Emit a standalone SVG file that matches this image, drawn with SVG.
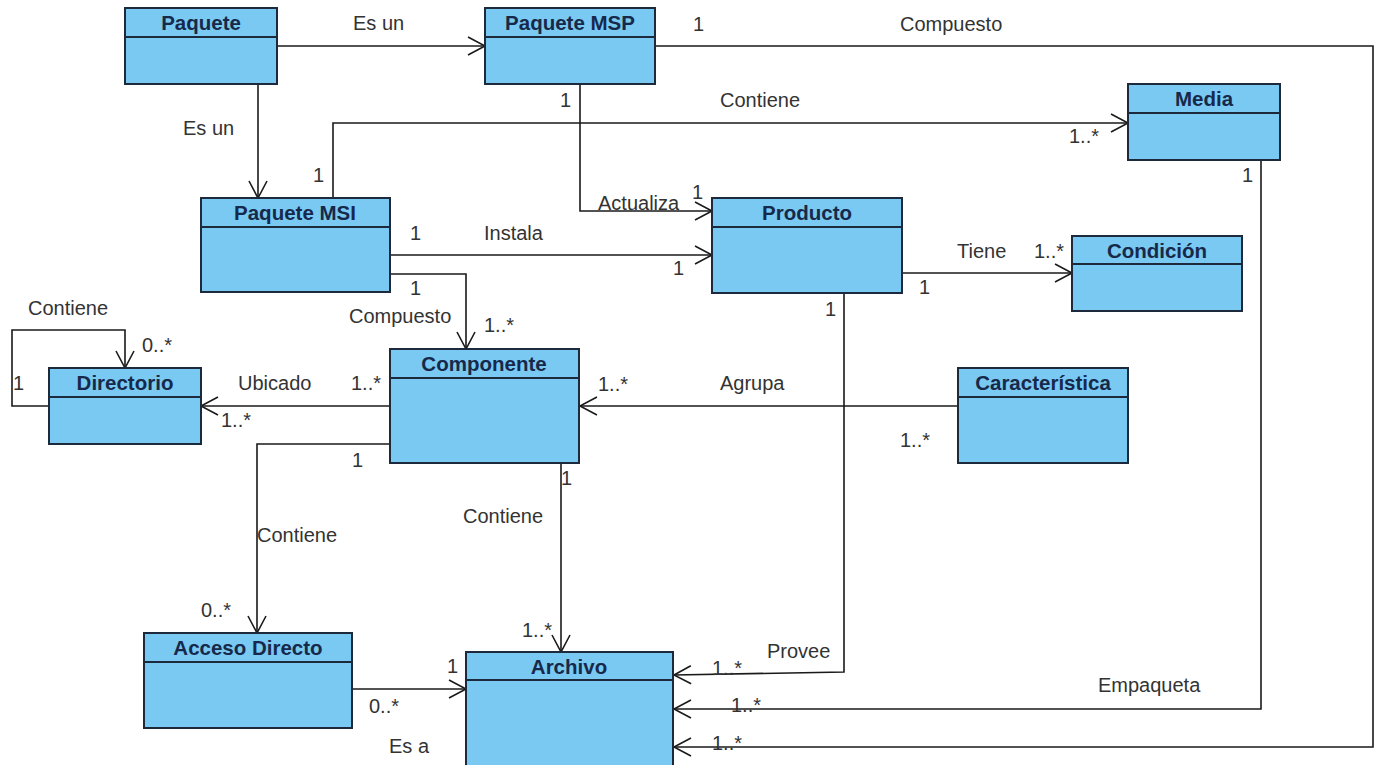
<svg xmlns="http://www.w3.org/2000/svg" width="1378" height="765" viewBox="0 0 1378 765">
  <style>
    .box { fill: #79c9f2; stroke: #1c2a3c; stroke-width: 2; }
    .sep { stroke: #1c2a3c; stroke-width: 2; fill: none; }
    .title { font-family: "Liberation Sans", Arial, sans-serif; font-size: 20.5px; font-weight: bold; fill: #17294a; text-anchor: middle; }
    .edge { fill: none; stroke: #1a1a1a; stroke-width: 1.6; }
    .lbl { font-family: "Liberation Sans", Arial, sans-serif; font-size: 20px; fill: #333333; }
  </style>
  <defs>
    <marker id="open" markerUnits="userSpaceOnUse" markerWidth="22" markerHeight="22" refX="18" refY="10" orient="auto">
      <path d="M1,1 L18,10 L1,19" fill="none" stroke="#1a1a1a" stroke-width="1.6"/>
    </marker>
  </defs>
  <rect width="1378" height="765" fill="#ffffff"/>

  <g id="connectors">
    <path class="edge" d="M277,46 H485" marker-end="url(#open)"/>
    <path class="edge" d="M258,84 V198" marker-end="url(#open)"/>
    <path class="edge" d="M655,46 H1373 V747 H674" marker-end="url(#open)"/>
    <path class="edge" d="M580,84 V211 H712" marker-end="url(#open)"/>
    <path class="edge" d="M333,198 V123 H1128" marker-end="url(#open)"/>
    <path class="edge" d="M1261,160 V709 H674" marker-end="url(#open)"/>
    <path class="edge" d="M390,255 H712" marker-end="url(#open)"/>
    <path class="edge" d="M390,274 H466 V349" marker-end="url(#open)"/>
    <path class="edge" d="M902,273 H1072" marker-end="url(#open)"/>
    <path class="edge" d="M844,293 V672 L674,675" marker-end="url(#open)"/>
    <path class="edge" d="M958,406 H580" marker-end="url(#open)"/>
    <path class="edge" d="M390,406 H201" marker-end="url(#open)"/>
    <path class="edge" d="M49,406 H12 V330 H125 V368" marker-end="url(#open)"/>
    <path class="edge" d="M390,444 H257 V633" marker-end="url(#open)"/>
    <path class="edge" d="M561,463 V652" marker-end="url(#open)"/>
    <path class="edge" d="M352,689 H466" marker-end="url(#open)"/>
  </g>

  <g id="labels">
    <text class="lbl" x="353" y="30">Es un</text>
    <text class="lbl" x="183" y="135">Es un</text>
    <text class="lbl" x="693" y="31">1</text>
    <text class="lbl" x="900" y="31">Compuesto</text>
    <text class="lbl" x="560" y="107">1</text>
    <text class="lbl" x="720" y="107">Contiene</text>
    <text class="lbl" x="1069" y="143">1..*</text>
    <text class="lbl" x="1242" y="182">1</text>
    <text class="lbl" x="313" y="182">1</text>
    <text class="lbl" x="598" y="210">Actualiza</text>
    <text class="lbl" x="692" y="199">1</text>
    <text class="lbl" x="410" y="240">1</text>
    <text class="lbl" x="484" y="240">Instala</text>
    <text class="lbl" x="673" y="275">1</text>
    <text class="lbl" x="410" y="295">1</text>
    <text class="lbl" x="349" y="323">Compuesto</text>
    <text class="lbl" x="484" y="332">1..*</text>
    <text class="lbl" x="919" y="294">1</text>
    <text class="lbl" x="825" y="316">1</text>
    <text class="lbl" x="957" y="258">Tiene</text>
    <text class="lbl" x="1034" y="258">1..*</text>
    <text class="lbl" x="900" y="447">1..*</text>
    <text class="lbl" x="720" y="390">Agrupa</text>
    <text class="lbl" x="598" y="391">1..*</text>
    <text class="lbl" x="28" y="315">Contiene</text>
    <text class="lbl" x="142" y="352">0..*</text>
    <text class="lbl" x="13" y="390">1</text>
    <text class="lbl" x="238" y="390">Ubicado</text>
    <text class="lbl" x="351" y="390">1..*</text>
    <text class="lbl" x="221" y="427">1..*</text>
    <text class="lbl" x="352" y="467">1</text>
    <text class="lbl" x="561" y="485">1</text>
    <text class="lbl" x="463" y="523">Contiene</text>
    <text class="lbl" x="257" y="542">Contiene</text>
    <text class="lbl" x="201" y="617">0..*</text>
    <text class="lbl" x="522" y="637">1..*</text>
    <text class="lbl" x="447" y="673">1</text>
    <text class="lbl" x="369" y="713">0..*</text>
    <text class="lbl" x="389" y="753">Es a</text>
    <text class="lbl" x="767" y="658">Provee</text>
    <text class="lbl" x="712" y="675">1..*</text>
    <text class="lbl" x="731" y="712">1..*</text>
    <text class="lbl" x="712" y="750">1..*</text>
    <text class="lbl" x="1098" y="692">Empaqueta</text>
  </g>

  <g id="paquete">
    <rect class="box" x="125" y="8" width="152" height="76"/>
    <line class="sep" x1="125" y1="37" x2="277" y2="37"/>
    <text class="title" x="201" y="30">Paquete</text>
  </g>
  <g id="paquete-msp">
    <rect class="box" x="485" y="8" width="170" height="76"/>
    <line class="sep" x1="485" y1="37" x2="655" y2="37"/>
    <text class="title" x="570" y="30">Paquete MSP</text>
  </g>
  <g id="media">
    <rect class="box" x="1128" y="84" width="152" height="76"/>
    <line class="sep" x1="1128" y1="113" x2="1280" y2="113"/>
    <text class="title" x="1204" y="106">Media</text>
  </g>
  <g id="paquete-msi">
    <rect class="box" x="201" y="198" width="189" height="94"/>
    <line class="sep" x1="201" y1="227" x2="390" y2="227"/>
    <text class="title" x="295" y="220">Paquete MSI</text>
  </g>
  <g id="producto">
    <rect class="box" x="712" y="198" width="190" height="95"/>
    <line class="sep" x1="712" y1="227" x2="902" y2="227"/>
    <text class="title" x="807" y="220">Producto</text>
  </g>
  <g id="condicion">
    <rect class="box" x="1072" y="236" width="170" height="75"/>
    <line class="sep" x1="1072" y1="264" x2="1242" y2="264"/>
    <text class="title" x="1157" y="258">Condición</text>
  </g>
  <g id="directorio">
    <rect class="box" x="49" y="368" width="152" height="76"/>
    <line class="sep" x1="49" y1="397" x2="201" y2="397"/>
    <text class="title" x="125" y="390">Directorio</text>
  </g>
  <g id="componente">
    <rect class="box" x="390" y="349" width="189" height="114"/>
    <line class="sep" x1="390" y1="378" x2="579" y2="378"/>
    <text class="title" x="484" y="371">Componente</text>
  </g>
  <g id="caracteristica">
    <rect class="box" x="958" y="368" width="170" height="95"/>
    <line class="sep" x1="958" y1="397" x2="1128" y2="397"/>
    <text class="title" x="1043" y="390">Característica</text>
  </g>
  <g id="acceso-directo">
    <rect class="box" x="144" y="633" width="208" height="95"/>
    <line class="sep" x1="144" y1="662" x2="352" y2="662"/>
    <text class="title" x="248" y="655">Acceso Directo</text>
  </g>
  <g id="archivo">
    <rect class="box" x="466" y="652" width="207" height="130"/>
    <line class="sep" x1="466" y1="680" x2="673" y2="680"/>
    <text class="title" x="569" y="674">Archivo</text>
  </g>
</svg>
